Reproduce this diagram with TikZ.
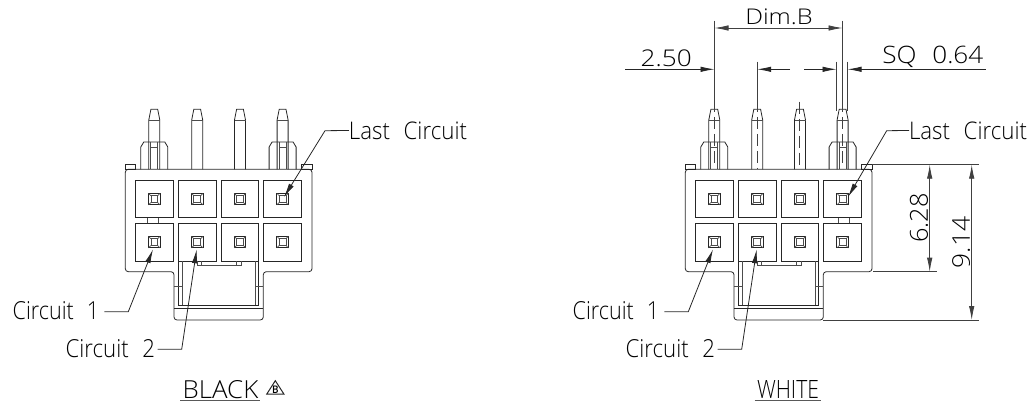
\documentclass[tikz,border=0pt]{standalone}
\usepackage{graphicx}
\usepackage{fontspec}
\setsansfont{Open Sans Light}
\usetikzlibrary{arrows.meta}
\tikzset{
  ln/.style={line width=0.8pt,black!85},
  thin ln/.style={line width=0.65pt,black!70},
  leader/.style={line width=0.8pt,black!85,-{Latex[length=14pt,width=5.5pt]}},
  dimline/.style={line width=0.8pt,black!75,{Latex[length=14pt,width=5.5pt]}-{Latex[length=14pt,width=5.5pt]}},
  dimone/.style={line width=0.8pt,black!85,-{Latex[length=14pt,width=5.5pt]}},
  ext/.style={line width=0.8pt,black!75},
  lbl/.style={inner sep=0pt,outer sep=0pt,text=black},
  cdash/.style={line width=0.7pt,black!75,dash pattern=on 12pt off 5pt}
}
\newcommand{\cad}[3]{\resizebox{#1pt}{#2pt}{\sffamily #3}}
\newcommand{\pinat}[1]{%
  \draw[ln] (#1-5.5,169.3) -- (#1-5.5,120) -- (#1-3.4,109.3) -- (#1+3.4,109.3) -- (#1+5.5,120) -- (#1+5.5,169.3);
  \draw[thin ln] (#1-5.5,120) -- (#1+5.5,120);
}
\newcommand{\shroudat}[1]{%
  \draw[ln] (#1-13.5,169.3) -- (#1-13.5,147) -- (#1-10.5,142) -- (#1+10.5,142) -- (#1+13.5,147) -- (#1+13.5,169.3);
  \draw[thin ln] (#1-3.5,142) -- (#1-3.5,169.3) (#1+3.5,142) -- (#1+3.5,169.3) (#1-3.5,147) -- (#1+3.5,147);
}
\newcommand{\cellat}[4]{%
  \draw[ln] (#1,#3) rectangle (#2,#3+37.6);
  \begin{scope}[shift={(#4,#3+18.8)}]
    \draw[line width=0.9pt,black!85] (-5.8,-5.8) rectangle (5.8,5.8);
    \draw[thin ln] (-3.4,-3.4) rectangle (3.4,3.4);
    \draw[thin ln] (-5.8,-5.8) -- (-3.4,-3.4) (5.8,-5.8) -- (3.4,-3.4) (-5.8,5.8) -- (-3.4,3.4) (5.8,5.8) -- (3.4,3.4);
  \end{scope}
}
\newcommand{\connbody}[2]{%
  \begin{scope}[shift={(#1,0)}]
    \pinat{154.3}\pinat{197.2}\pinat{240}\pinat{282.6}
    \shroudat{154.3}\shroudat{282.6}
    \draw[ln,fill=white] (125.3,164.7) rectangle (135.3,169.3);
    \draw[ln,fill=white] (301.7,164.7) rectangle (312,169.3);
    \draw[ln,rounded corners=3pt] (125.3,169.3) -- (125.3,271.7) -- (174,271.7) -- (174,320) -- (263.3,320) -- (263.3,271.7) -- (312,271.7) -- (312,169.3) -- cycle;
    \cellat{135.3}{173.7}{180.3}{154.3}
    \cellat{178.3}{216.3}{180.3}{197.2}
    \cellat{221}{258.7}{180.3}{240}
    \cellat{263.5}{301.7}{180.3}{282.6}
    \cellat{135.3}{173.7}{223.3}{154.3}
    \cellat{178.3}{216.3}{223.3}{197.2}
    \cellat{221}{258.7}{223.3}{240}
    \cellat{263.5}{301.7}{223.3}{282.6}
    % key between the rows
    \draw[thin ln] (#2,217.9) -- (#2,223.3) (#2+10.7,217.9) -- (#2+10.7,223.3);
    % latch
    \draw[ln] (178.6,261) -- (178.6,305) -- (258.2,305) -- (258.2,261);
    \draw[thin ln] (182,261) -- (182,305) (255,305) -- (255,261);
    \draw[ln] (174,308.7) -- (263.3,308.7);
    \draw[thin ln] (174,286) -- (182,286) (255,286) -- (263.3,286);
    \draw[thin ln] (197,261) -- (197,265.2) -- (241.5,265.2) -- (241.5,261);
    \draw[thin ln] (201.5,261) -- (201.5,265.2) (236,261) -- (236,265.2);
  \end{scope}
}
\begin{document}
\begin{tikzpicture}[x=1pt,y=-1pt]
\useasboundingbox (0,0) rectangle (1028,406);
\connbody{0}{147.3}
\connbody{560}{278.3}

% ---- left labels
\node[lbl] (lastL) at (408,130.5) {\cad{118}{17.6}{Last\hspace{.35em} Circuit}};
\node[lbl] (oneL) at (56,311) {\cad{86.6}{18}{Circuit\hspace{.35em} 1}};
\node[lbl] (twoL) at (110.3,349) {\cad{89.3}{18}{Circuit\hspace{.35em} 2}};
\node[lbl] (blackL) at (220.5,389.2) {\cad{75.6}{18}{BLACK}};
\draw[line width=1pt,black!65] ([xshift=-2.5pt,yshift=-2.6pt]blackL.south west) -- ([xshift=1.5pt,yshift=-2.6pt]blackL.south east);
\coordinate (elbLast) at (325,130.7); \coordinate (tipLast) at (284,197);
\coordinate (elbOne) at (128.3,311.7); \coordinate (tipOne) at (153,249.3);
\coordinate (elbTwo) at (181.7,349.3); \coordinate (tipTwo) at (196.7,249.3);
\draw[leader] (lastL.west) -- (elbLast) -- (tipLast);
\draw[leader] (oneL.east) ++(5,0.7) -- (elbOne) -- (tipOne);
\draw[leader] (twoL.east) ++(2.7,0.3) -- (elbTwo) -- (tipTwo);
% revision triangle
\node[lbl] (revB) at (275.3,389.5) {\resizebox{6.5pt}{7.5pt}{\sffamily\bfseries B}};
\coordinate (triA) at (275.3,380.7); \coordinate (triB) at (284,394.2); \coordinate (triC) at (266.7,394.2);
\draw[line width=1pt,black!85] (triA) -- (triB) -- (triC) -- cycle;

% ---- right labels
\node[lbl] (lastR) at (968,130.5) {\cad{118}{17.6}{Last\hspace{.35em} Circuit}};
\node[lbl] (oneR) at (616,311) {\cad{86.6}{18}{Circuit\hspace{.35em} 1}};
\node[lbl] (twoR) at (670.3,349) {\cad{89.3}{18}{Circuit\hspace{.35em} 2}};
\node[lbl] (whiteR) at (788,389.2) {\cad{62}{18}{WHITE}};
\draw[line width=1pt,black!65] ([xshift=-2.5pt,yshift=-2.6pt]whiteR.south west) -- ([xshift=1.5pt,yshift=-2.6pt]whiteR.south east);
\coordinate (elbLastR) at (886.7,130.7); \coordinate (tipLastR) at (848,197);
\coordinate (elbOneR) at (688.3,311.7); \coordinate (tipOneR) at (713,249.3);
\coordinate (elbTwoR) at (741.7,349.3); \coordinate (tipTwoR) at (756.7,249.3);
\draw[leader] (lastR.west) -- (elbLastR) -- (tipLastR);
\draw[leader] (oneR.east) ++(5,0.7) -- (elbOneR) -- (tipOneR);
\draw[leader] (twoR.east) ++(2.7,0.3) -- (elbTwoR) -- (tipTwoR);

% ---- pin centre lines (right)
\coordinate (cA) at (714.5,100); \coordinate (cAe) at (714.5,165);
\coordinate (cB) at (757.2,100); \coordinate (cBe) at (757.2,169);
\coordinate (cC) at (799.7,101.7); \coordinate (cCe) at (799.7,169);
\coordinate (cD) at (842.5,100); \coordinate (cDe) at (842.5,165);
\draw[cdash] (cA) -- (cAe);
\draw[cdash] (cB) -- (cBe);
\draw[cdash] (cC) -- (cCe);
\draw[cdash] (cD) -- (cDe);

% ---- Dim.B
\coordinate (eAtop) at (714.5,20.7);
\coordinate (eDtop) at (842.5,20.7);
\coordinate (eBtop) at (757.2,61.7);
\coordinate (eEtop) at (836.5,61.7); \coordinate (eEbot) at (836.5,111);
\coordinate (eFtop) at (847.6,61.7); \coordinate (eFbot) at (847.6,111);
\draw[ext] (eAtop) -- (cA);
\draw[ext] (eDtop) -- (cD);
\draw[ext] (eBtop) -- (cB);
\draw[ext] (eEtop) -- (eEbot);
\draw[ext] (eFtop) -- (eFbot);
\coordinate (dimL) at (714.5,28); \coordinate (dimR) at (842.5,28);
\draw[dimline] (dimL) -- (dimR);
\node[lbl] (dimB) at (779,17) {\cad{67.5}{15.7}{Dim.B}};

% ---- 2.50
\node[lbl] (twofifty) at (666.2,58.3) {\cad{51}{16.7}{2.50}};
\coordinate (a1) at (625,69.3); \coordinate (a2) at (714.5,69.3);
\coordinate (a3) at (790,69.3); \coordinate (a4) at (757.2,69.3);
\coordinate (a5) at (804,69.3); \coordinate (a6) at (836.5,69.3);
\coordinate (a7) at (985.7,69.3); \coordinate (a8) at (847.6,69.3);
\draw[dimone] (a1) -- (a2);
\draw[dimone] (a3) -- (a4);
\draw[dimone] (a5) -- (a6);
\draw[dimone] (a7) -- (a8);
\node[lbl] (sq) at (932.8,57) {\cad{101}{17.4}{SQ\hspace{.35em} 0.64}};

% ---- height dimensions
\coordinate (h1a) at (872,164.7); \coordinate (h1b) at (979,164.7);
\coordinate (h2a) at (873,271.7); \coordinate (h2b) at (936.7,271.7);
\coordinate (h3a) at (823,320); \coordinate (h3b) at (979,320);
\draw[ext] (h1a) -- (h1b);
\draw[ext] (h2a) -- (h2b);
\draw[ext] (h3a) -- (h3b);
\coordinate (v1t) at (929.7,164.7); \coordinate (v1b) at (929.7,271.7);
\coordinate (v2t) at (971.7,164.7); \coordinate (v2b) at (971.7,320);
\draw[dimline] (v1t) -- (v1b);
\draw[dimline] (v2t) -- (v2b);
\node[lbl,rotate=90] (d628) at (919,218) {\cad{49.4}{18}{6.28}};
\node[lbl,rotate=90] (d914) at (961.2,242.5) {\cad{51.6}{17.7}{9.14}};
\end{tikzpicture}
\end{document}
